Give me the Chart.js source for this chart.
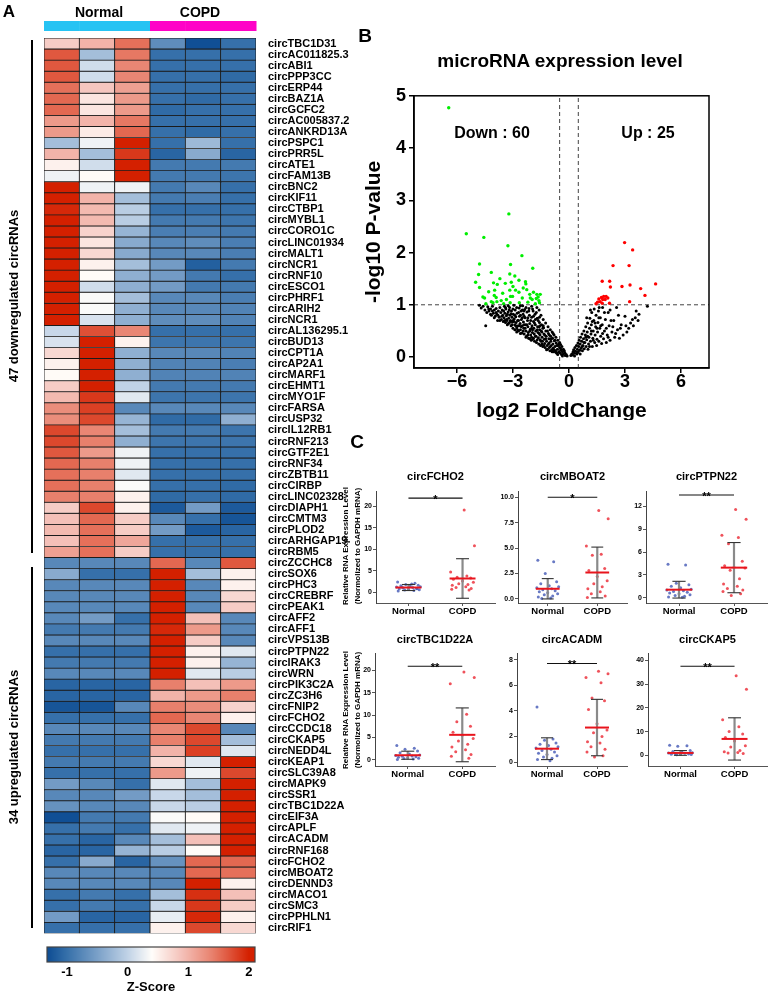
<!DOCTYPE html>
<html>
<head>
<meta charset="utf-8">
<script src="https://cdn.jsdelivr.net/npm/chart.js@4.4.1/dist/chart.umd.min.js"></script>
<style>
body { margin: 0; background: #fff; }
#stage { position: relative; width: 770px; height: 994px; overflow: hidden; background: #fff;
  font-family: 'Liberation Sans', Arial, sans-serif; font-weight: bold; color: #000; }
.lbl { position: absolute; white-space: nowrap; transform: translate(-50%, -50%); line-height: 1; }
.rot { transform: translate(-50%, -50%) rotate(-90deg); }
.vline { position: absolute; background: #000; width: 2px; }
canvas { position: absolute; }
</style>
</head>
<body>
<div id="stage"></div>
<script>
// ---------- Panel A data ----------
const sampleGroups = ['Normal', 'Normal', 'Normal', 'COPD', 'COPD', 'COPD'];
const circNames = [
  'circTBC1D31', 'circAC011825.3', 'circABI1', 'circPPP3CC', 'circERP44', 'circBAZ1A', 'circGCFC2',
  'circAC005837.2', 'circANKRD13A', 'circPSPC1', 'circPRR5L', 'circATE1', 'circFAM13B', 'circBNC2',
  'circKIF11', 'circCTBP1', 'circMYBL1', 'circCORO1C', 'circLINC01934', 'circMALT1', 'circNCR1',
  'circRNF10', 'circESCO1', 'circPHRF1', 'circARIH2', 'circNCR1', 'circAL136295.1', 'circBUD13',
  'circCPT1A', 'circAP2A1', 'circMARF1', 'circEHMT1', 'circMYO1F', 'circFARSA', 'circUSP32',
  'circIL12RB1', 'circRNF213', 'circGTF2E1', 'circRNF34', 'circZBTB11', 'circCIRBP', 'circLINC02328',
  'circDIAPH1', 'circCMTM3', 'circPLOD2', 'circARHGAP19', 'circRBM5',
  'circZCCHC8', 'circSOX6', 'circPHC3', 'circCREBRF', 'circPEAK1', 'circAFF2', 'circAFF1',
  'circVPS13B', 'circPTPN22', 'circIRAK3', 'circWRN', 'circPIK3C2A', 'circZC3H6', 'circFNIP2',
  'circFCHO2', 'circCCDC18', 'circCKAP5', 'circNEDD4L', 'circKEAP1', 'circSLC39A8', 'circMAPK9',
  'circSSR1', 'circTBC1D22A', 'circEIF3A', 'circAPLF', 'circACADM', 'circRNF168', 'circFCHO2',
  'circMBOAT2', 'circDENND3', 'circMACO1', 'circSMC3', 'circPPHLN1', 'circRIF1'
];
// z-score per row: Normal1..3, COPD1..3
const zScores = [
  [0.8, 1.0, 1.5, -0.7, -1.3, -1.0], [1.65, -0.2, 1.45, -1.0, -1.0, -1.0],
  [1.65, 0.1, 1.35, -1.0, -1.0, -1.0], [1.65, 0.1, 1.35, -1.0, -1.0, -1.05],
  [1.5, 0.85, 1.15, -1.0, -1.0, -1.0], [1.55, 0.6, 1.2, -1.0, -1.05, -1.0],
  [1.55, 0.6, 1.2, -1.05, -1.0, -1.0], [1.2, 1.0, 1.45, -1.0, -1.0, -1.0],
  [1.2, 0.55, 1.55, -1.0, -1.05, -1.0], [-0.2, 0.3, 2.0, -1.0, -0.25, -1.0],
  [1.0, -0.2, 1.85, -1.1, -0.4, -1.1], [0.5, 0.1, 2.0, -0.9, -0.9, -0.9],
  [0.3, 0.42, 2.0, -0.9, -0.9, -0.95], [2.0, 0.3, 0.3, -0.9, -0.75, -1.0],
  [2.0, 1.0, -0.2, -0.9, -0.85, -1.0], [1.95, 0.95, -0.05, -1.0, -1.0, -1.0],
  [2.0, 0.95, -0.05, -0.9, -0.9, -0.95], [2.0, 0.75, -0.3, -0.85, -0.85, -0.9],
  [2.0, 0.6, -0.4, -0.75, -0.7, -0.85], [2.0, 0.7, -0.4, -0.75, -0.75, -0.85],
  [2.0, 0.5, -0.2, -0.55, -1.15, -0.9], [2.0, 0.42, -0.35, -0.55, -0.9, -1.0],
  [2.0, 0.1, -0.35, -0.55, -0.9, -0.9], [2.0, 0.37, -0.2, -0.75, -0.75, -0.85],
  [2.0, 0.37, -0.35, -0.75, -0.75, -0.8], [2.0, 0.15, -0.35, -0.7, -0.7, -0.8],
  [0.05, 1.7, 1.35, -1.0, -1.0, -1.0], [0.15, 2.0, 0.5, -0.95, -0.95, -0.95],
  [0.7, 2.0, -0.35, -0.75, -0.75, -0.8], [0.5, 2.0, -0.35, -0.8, -0.8, -0.85],
  [0.42, 2.0, -0.35, -0.8, -0.8, -0.8], [0.8, 2.0, 0.0, -0.9, -0.9, -0.9],
  [0.95, 1.85, 0.2, -0.95, -0.95, -0.95], [1.3, 1.8, -0.75, -0.75, -0.75, -0.75],
  [1.3, 1.75, -0.3, -1.05, -1.05, -0.35], [1.75, 1.35, -0.2, -0.9, -0.9, -0.95],
  [1.75, 1.4, -0.35, -0.95, -0.95, -0.95], [1.65, 1.2, 0.3, -1.0, -1.0, -1.0],
  [1.55, 1.4, 0.3, -1.0, -1.0, -1.0], [1.5, 1.4, 0.2, -1.0, -1.0, -1.0],
  [1.5, 1.4, 0.37, -1.0, -1.0, -1.05], [1.4, 1.4, 0.5, -1.05, -1.0, -1.05],
  [0.8, 1.75, 0.5, -1.2, -0.55, -1.2], [0.9, 1.55, 0.8, -0.75, -1.0, -1.25],
  [0.95, 1.5, 0.8, -0.55, -1.2, -1.1], [0.9, 1.5, 1.1, -1.0, -1.0, -1.0],
  [1.15, 1.5, 0.8, -1.0, -1.0, -1.0],
  [-0.75, -0.75, -0.75, 1.55, -0.75, 1.65], [-0.4, -1.0, -1.0, 2.0, -0.2, 0.5],
  [-0.75, -0.75, -0.75, 2.0, -0.75, 0.5], [-0.75, -0.75, -0.75, 2.0, -0.75, 0.7],
  [-0.75, -0.75, -0.75, 2.0, -0.75, 0.8], [-0.75, -0.55, -1.0, 2.0, 0.9, -0.75],
  [-0.9, -0.9, -0.9, 1.95, 1.2, -0.75], [-0.75, -0.75, -0.75, 2.0, 0.8, -0.75],
  [-1.0, -1.0, -1.0, 2.0, 0.5, 0.2], [-0.9, -0.9, -0.9, 2.0, 0.5, -0.3],
  [-0.75, -0.75, -0.75, 2.0, 0.2, -0.05], [-1.1, -1.1, -1.1, 1.4, 0.9, 1.2],
  [-1.1, -1.1, -1.1, 1.0, 1.2, 1.4], [-1.25, -1.25, -0.75, 1.4, 1.3, 0.75],
  [-1.0, -1.0, -1.0, 1.55, 1.35, 0.5], [-0.75, -0.75, -0.75, 1.35, 1.75, -0.75],
  [-0.9, -0.9, -0.9, 1.4, 1.75, -0.2], [-1.0, -1.0, -1.0, 1.0, 1.8, 0.2],
  [-0.9, -0.9, -0.9, 0.7, 0.2, 2.0], [-1.0, -1.0, -1.0, 1.2, 0.3, 1.75],
  [-0.55, -0.75, -1.0, 0.2, -0.2, 2.0], [-0.75, -0.75, -0.55, 0.05, -0.2, 2.0],
  [-0.65, -0.75, -0.75, 0.05, -0.05, 2.0], [-1.3, -0.9, -0.9, 0.37, 0.42, 2.0],
  [-1.0, -0.9, -1.0, 0.2, 0.3, 2.0], [-1.0, -1.1, -0.75, -0.2, 0.9, 2.0],
  [-1.1, -1.1, -0.3, -0.05, 0.42, 2.0], [-1.0, -0.4, -1.1, -0.65, 1.55, 1.55],
  [-0.75, -0.75, -0.75, -0.75, 1.55, 1.5], [-0.75, -0.75, -0.75, -0.75, 2.0, 0.5],
  [-1.0, -0.9, -1.0, -0.2, 1.9, 0.9], [-1.0, -0.9, -1.0, 0.05, 1.85, 0.8],
  [-0.55, -1.1, -1.1, 0.25, 1.95, 0.5], [-1.0, -1.0, -1.0, 0.5, 1.75, 0.7]
];
const zTicks = [-1, 0, 1, 2];
const zRange = [-1.33, 2.1];

// ---------- Panel B data (log2 FC, -log10 P) ----------
const downPoints = [
  [-6.44, 4.77], [-3.22, 2.74], [-5.5, 2.36], [-4.56, 2.29], [-3.27, 2.13], [-2.52, 1.94], [-4.79, 1.78],
  [-3.13, 1.77], [-1.94, 1.70], [-4.16, 1.62], [-4.84, 1.58], [-3.17, 1.59], [-5.0, 1.43], [-4.04, 1.42],
  [-3.84, 1.39], [-3.41, 1.41], [-3.09, 1.43], [-2.68, 1.47], [-2.33, 1.44], [-2.31, 1.40], [-4.79, 1.33],
  [-3.98, 1.28], [-3.17, 1.28], [-2.86, 1.28], [-2.68, 1.24], [-2.26, 1.29], [-1.9, 1.24], [-1.72, 1.20],
  [-1.54, 1.20], [-4.61, 1.15], [-4.52, 1.13], [-3.9, 1.14], [-3.13, 1.16], [-3.02, 1.16], [-2.5, 1.13],
  [-2.07, 1.13], [-1.97, 1.10], [-1.61, 1.08], [-4.16, 1.06], [-4.07, 1.04], [-3.86, 1.06], [-3.63, 1.08],
  [-3.15, 1.04], [-2.66, 1.04], [-1.58, 1.04], [-1.65, 1.15], [-3.55, 1.22], [-3.7, 1.5], [-2.9, 1.55],
  [-4.3, 1.25], [-2.2, 1.05], [-1.8, 1.02], [-3.35, 1.1], [-4.45, 1.02], [-2.45, 1.32], [-1.75, 1.12],
  [-3.0, 1.35], [-4.0, 1.18], [-2.1, 1.2], [-3.5, 1.02]
];
const upPoints = [
  [2.98, 2.19], [3.41, 2.05], [2.36, 1.75], [3.22, 1.75], [1.78, 1.45], [2.18, 1.45], [4.64, 1.40],
  [2.22, 1.34], [2.84, 1.35], [3.27, 1.38], [3.84, 1.31], [4.07, 1.18], [3.25, 1.06], [1.74, 1.14],
  [1.86, 1.16], [1.99, 1.16], [2.08, 1.13], [1.6, 1.11], [1.67, 1.06], [1.53, 1.05], [1.94, 1.10],
  [1.81, 1.10], [2.17, 1.03], [1.45, 1.02], [1.78, 1.03]
];
const nsPoints = [
  [-0.1, 0.02], [-0.15, 0.05], [-0.2, 0.03], [-0.22, 0.08], [-0.25, 0.12], [-0.3, 0.06], [-0.3, 0.15],
  [-0.35, 0.1], [-0.38, 0.2], [-0.4, 0.05], [-0.42, 0.13], [-0.45, 0.24], [-0.48, 0.08], [-0.5, 0.18],
  [-0.5, 0.28], [-0.55, 0.1], [-0.58, 0.22], [-0.6, 0.32], [-0.62, 0.15], [-0.65, 0.07], [-0.68, 0.27],
  [-0.7, 0.38], [-0.72, 0.12], [-0.75, 0.2], [-0.78, 0.31], [-0.8, 0.42], [-0.82, 0.1], [-0.85, 0.17],
  [-0.86, 0.25], [-0.88, 0.36], [-0.9, 0.48], [-0.92, 0.14], [-0.95, 0.22], [-0.97, 0.3], [-0.98, 0.4],
  [-1.0, 0.52], [-1.02, 0.12], [-1.05, 0.18], [-1.06, 0.27], [-1.08, 0.35], [-1.1, 0.45], [-1.12, 0.58],
  [-1.15, 0.15], [-1.17, 0.22], [-1.2, 0.3], [-1.22, 0.4], [-1.24, 0.5], [-1.25, 0.65], [-1.28, 0.18],
  [-1.3, 0.26], [-1.32, 0.34], [-1.34, 0.44], [-1.36, 0.56], [-1.38, 0.72], [-1.4, 0.2], [-1.42, 0.3],
  [-1.44, 0.38], [-1.45, 0.48], [-1.47, 0.62], [-1.5, 0.8], [-1.52, 0.22], [-1.54, 0.33], [-1.55, 0.42],
  [-1.57, 0.52], [-1.58, 0.66], [-1.6, 0.9], [-1.62, 0.25], [-1.64, 0.37], [-1.66, 0.47], [-1.68, 0.58],
  [-1.7, 0.74], [-1.72, 0.95], [-1.74, 0.28], [-1.76, 0.4], [-1.78, 0.5], [-1.8, 0.62], [-1.82, 0.82],
  [-1.84, 0.3], [-1.86, 0.44], [-1.88, 0.55], [-1.9, 0.68], [-1.92, 0.88], [-1.94, 0.34], [-1.96, 0.47],
  [-1.98, 0.6], [-2.0, 0.76], [-2.0, 0.97], [-2.02, 0.32], [-2.05, 0.42], [-2.07, 0.53], [-2.1, 0.64],
  [-2.12, 0.8], [-2.14, 0.93], [-2.16, 0.36], [-2.18, 0.47], [-2.2, 0.58], [-2.22, 0.7], [-2.25, 0.86],
  [-2.28, 0.4], [-2.3, 0.5], [-2.32, 0.62], [-2.35, 0.75], [-2.37, 0.91], [-2.4, 0.44], [-2.42, 0.55],
  [-2.44, 0.67], [-2.46, 0.82], [-2.48, 0.98], [-2.5, 0.6], [-2.52, 0.46], [-2.55, 0.72], [-2.57, 0.88],
  [-2.6, 0.52], [-2.62, 0.64], [-2.65, 0.78], [-2.67, 0.94], [-2.7, 0.5], [-2.72, 0.6], [-2.75, 0.7],
  [-2.78, 0.84], [-2.8, 0.56], [-2.83, 0.66], [-2.85, 0.77], [-2.88, 0.9], [-2.9, 0.62], [-2.93, 0.73],
  [-2.95, 0.99], [-2.98, 0.82], [-3.0, 0.55], [-3.03, 0.67], [-3.05, 0.76], [-3.08, 0.88], [-3.1, 0.6],
  [-3.13, 0.7], [-3.16, 0.8], [-3.18, 0.95], [-3.2, 0.65], [-3.23, 0.74], [-3.26, 0.86], [-3.3, 0.62],
  [-3.32, 0.7], [-3.35, 0.79], [-3.38, 0.92], [-3.4, 0.66], [-3.43, 0.84], [-3.46, 0.97], [-3.48, 0.75],
  [-3.52, 0.68], [-3.55, 0.8], [-3.58, 0.9], [-3.62, 0.72], [-3.65, 0.85], [-3.7, 0.95], [-3.74, 0.76],
  [-3.78, 0.88], [-3.82, 0.7], [-3.86, 0.82], [-3.9, 0.93], [-3.95, 0.78], [-4.0, 0.9], [-4.05, 0.84],
  [-4.1, 0.97], [-4.15, 0.8], [-4.2, 0.92], [-4.28, 0.88], [-4.35, 0.96], [-4.46, 0.6], [-4.5, 0.9],
  [-4.6, 0.97], [-4.7, 0.94], [-4.8, 0.99],
  [-0.6, 0.05], [-0.7, 0.09], [-0.8, 0.14], [-0.9, 0.1], [-1.0, 0.2], [-1.1, 0.25], [-1.2, 0.14],
  [-1.3, 0.42], [-1.4, 0.55], [-1.5, 0.3], [-1.55, 0.6], [-1.6, 0.45], [-1.65, 0.7], [-1.7, 0.33],
  [-1.75, 0.85], [-1.8, 0.4], [-1.85, 0.65], [-1.9, 0.78], [-1.95, 0.52], [-2.0, 0.38], [-2.05, 0.7],
  [-2.1, 0.5], [-2.15, 0.88], [-2.2, 0.42], [-2.25, 0.62], [-2.3, 0.95], [-2.35, 0.55], [-2.4, 0.78],
  [-2.45, 0.5], [-2.5, 0.9], [-2.55, 0.58], [-2.6, 0.8], [-2.65, 0.6], [-2.7, 0.85], [-2.75, 0.52],
  [-2.8, 0.95], [-2.85, 0.6], [-2.9, 0.8], [-2.95, 0.68], [-3.0, 0.92], [-3.05, 0.62], [-3.1, 0.83],
  [-3.15, 0.68], [-3.2, 0.9], [-3.25, 0.64], [-3.3, 0.82], [-3.35, 0.72], [-3.4, 0.95], [-3.45, 0.7],
  [-3.5, 0.88], [-3.6, 0.78], [-3.7, 0.7], [-3.8, 0.8], [-3.9, 0.85], [-4.0, 0.75], [-4.1, 0.88],
  [-4.2, 0.82], [-4.3, 0.92], [-4.4, 0.85], [-1.25, 0.35], [-1.35, 0.22], [-1.45, 0.25], [-1.6, 0.58],
  [-1.7, 0.52], [-1.8, 0.72], [-1.9, 0.36], [-2.0, 0.55], [-2.1, 0.35], [-2.2, 0.75], [-2.3, 0.38],
  [-2.4, 0.62], [-2.5, 0.75], [-2.6, 0.45], [-2.7, 0.7], [-2.8, 0.48], [-2.9, 0.52], [-3.0, 0.7],
  [-1.15, 0.5], [-1.05, 0.42], [-0.95, 0.35], [-0.85, 0.45], [-0.75, 0.32], [-0.65, 0.22], [-0.55, 0.25],
  [-0.45, 0.16], [-0.35, 0.02], [-2.6, 0.98], [-3.25, 0.98], [-1.95, 0.92], [-2.42, 0.88], [-1.58, 0.76],
  [-1.48, 0.5], [-1.38, 0.6],
  [0.1, 0.03], [0.15, 0.06], [0.2, 0.04], [0.22, 0.1], [0.25, 0.14], [0.3, 0.07], [0.32, 0.18],
  [0.35, 0.11], [0.4, 0.22], [0.42, 0.06], [0.45, 0.15], [0.48, 0.27], [0.5, 0.1], [0.52, 0.2],
  [0.55, 0.32], [0.58, 0.13], [0.6, 0.25], [0.62, 0.38], [0.65, 0.17], [0.68, 0.3], [0.7, 0.44],
  [0.72, 0.12], [0.75, 0.22], [0.78, 0.35], [0.8, 0.5], [0.82, 0.16], [0.85, 0.28], [0.88, 0.42],
  [0.9, 0.58], [0.92, 0.2], [0.95, 0.33], [0.98, 0.48], [1.0, 0.65], [1.02, 0.15], [1.05, 0.25],
  [1.07, 0.38], [1.1, 0.55], [1.12, 0.74], [1.15, 0.3], [1.18, 0.44], [1.2, 0.62], [1.22, 0.85],
  [1.25, 0.2], [1.28, 0.36], [1.3, 0.5], [1.33, 0.7], [1.35, 0.92], [1.38, 0.28], [1.4, 0.42],
  [1.43, 0.58], [1.45, 0.8], [1.48, 0.22], [1.5, 0.34], [1.53, 0.48], [1.55, 0.66], [1.58, 0.88],
  [1.6, 0.3], [1.65, 0.55], [1.68, 0.75], [1.7, 0.4], [1.75, 0.26], [1.78, 0.62], [1.8, 0.95],
  [1.85, 0.35], [1.9, 0.5], [1.95, 0.72], [2.0, 0.28], [2.05, 0.42], [2.1, 0.85], [2.15, 0.6],
  [2.2, 0.32], [2.3, 0.48], [2.4, 0.7], [2.45, 0.38], [2.55, 0.95], [2.6, 0.52], [2.7, 0.36],
  [2.8, 0.62], [2.9, 0.42], [3.0, 0.78], [3.1, 0.48], [3.2, 0.55], [3.3, 0.65], [3.4, 0.72],
  [3.45, 0.6], [3.6, 0.88], [3.7, 0.7], [3.75, 0.82], [4.2, 0.97],
  [0.3, 0.02], [0.45, 0.08], [0.6, 0.06], [0.7, 0.2], [0.8, 0.28], [0.9, 0.38], [1.0, 0.4],
  [1.1, 0.2], [1.2, 0.5], [1.3, 0.32], [1.4, 0.65], [1.5, 0.55], [1.6, 0.75], [1.7, 0.6],
  [1.8, 0.45], [1.9, 0.85], [2.0, 0.55], [2.1, 0.38], [2.25, 0.7], [2.35, 0.58], [2.5, 0.45],
  [2.65, 0.8], [2.75, 0.55], [3.05, 0.6], [3.55, 0.75], [0.95, 0.75], [1.15, 0.9], [1.25, 0.68],
  [1.62, 0.95], [2.2, 0.9]
];
const fcCutoffs = [-0.5, 0.5];
const pCutoff = 1;
const volcanoX = [-8.3, 7.5];
const volcanoY = [-0.21, 5.0];
const volcanoXTicks = [-6, -3, 0, 3, 6];

// ---------- Panel C data ----------
const cTitles = ['circFCHO2', 'circMBOAT2', 'circPTPN22', 'circTBC1D22A', 'circACADM', 'circCKAP5'];
const cNormal = [
  [2.4, 2.1, 1.8, 1.6, 1.5, 1.4, 1.3, 1.2, 1.1, 1.0, 0.9, 0.8, 0.7, 0.6, 0.5, 0.4, 0.3, 1.9, 1.2, 0.8],
  [3.8, 3.65, 2.5, 1.7, 1.5, 1.3, 1.2, 1.1, 1.0, 0.9, 0.8, 0.7, 0.6, 0.5, 0.4, 0.3, 0.2, 0.1, 0.05],
  [4.4, 4.3, 1.9, 1.7, 1.5, 1.3, 1.1, 1.0, 0.9, 0.8, 0.7, 0.6, 0.5, 0.4, 0.3, 0.2, 0.1, 0.05],
  [3.2, 2.6, 2.4, 2.0, 1.6, 1.3, 1.1, 1.0, 0.9, 0.8, 0.7, 0.6, 0.5, 0.4, 0.3, 0.2, 0.1],
  [4.3, 1.8, 1.7, 1.5, 1.4, 1.3, 1.2, 1.1, 1.0, 0.9, 0.8, 0.7, 0.6, 0.5, 0.4, 0.3, 0.2, 0.1],
  [4.2, 4.0, 3.8, 2.0, 1.6, 1.3, 1.1, 1.0, 0.9, 0.8, 0.6, 0.5, 0.4, 0.3, 0.2]
];
const cCopd = [
  [19.1, 10.8, 4.7, 3.8, 3.5, 3.3, 3.0, 2.6, 2.3, 2.0, 1.8, 1.6, 1.3, 1.1, 0.9, 0.7, 0.5],
  [8.7, 7.9, 5.2, 4.4, 4.3, 3.0, 2.8, 2.2, 1.8, 1.5, 1.2, 1.0, 0.7, 0.5, 0.3, 0.15],
  [11.6, 10.3, 8.2, 7.9, 7.1, 4.8, 4.2, 4.0, 3.9, 3.6, 2.5, 1.8, 1.5, 1.2, 1.0, 0.8, 0.5, 0.3],
  [19.6, 18.4, 17.0, 10.2, 8.5, 7.5, 6.2, 5.5, 4.8, 4.2, 3.5, 2.9, 2.3, 1.8, 1.2, 0.8, 0.4],
  [7.1, 6.9, 6.6, 6.2, 5.0, 4.8, 4.1, 3.0, 2.5, 2.3, 2.0, 1.6, 1.5, 1.2, 1.0, 0.8, 0.5, 0.4],
  [33.5, 27.8, 15.0, 12.0, 10.0, 9.0, 7.5, 6.0, 4.0, 3.5, 2.0, 1.5, 1.2, 1.0, 0.8]
];
const cMeanNormal = [1.1, 1.0, 1.05, 1.05, 1.05, 1.0];
const cSdNormal = [0.7, 1.0, 1.1, 0.9, 0.85, 1.0];
const cMeanCopd = [3.2, 2.6, 3.95, 5.6, 2.7, 6.9];
const cSdCopd = [4.6, 2.5, 3.3, 6.0, 2.2, 8.9];
const cSigLevel = [21.9, 10.0, 13.5, 20.9, 7.7, 37.5];
const cSigStars = ['*', '*', '**', '**', '**', '**'];
const cYRange = [[-2.5, 23.5], [-0.4, 10.6], [-0.7, 14], [-1.35, 23.8], [-0.3, 8.5], [-4.5, 43]];
const cYTicks = [[0, 5, 10, 15, 20], [0, 2.5, 5, 7.5, 10], [0, 3, 6, 9, 12], [0, 5, 10, 15, 20], [0, 2, 4, 6, 8], [0, 10, 20, 30, 40]];
const jitterOffsets = [-0.2, 0.12, -0.05, 0.18, -0.14, 0.03, 0.22, -0.22, 0.08, -0.1,
  0.15, -0.17, 0.0, 0.2, -0.07, 0.1, -0.19, 0.06, -0.12, 0.16];

// ---------- setup ----------
const FONT = "'Liberation Sans', Arial, sans-serif";
Chart.defaults.font.family = FONT;
Chart.defaults.font.weight = 'bold';
Chart.defaults.color = '#000';
Chart.defaults.animation = false;
Chart.defaults.events = [];
Chart.defaults.plugins.legend.display = false;
Chart.defaults.plugins.tooltip.enabled = false;

const stage = document.getElementById('stage');

function makeCanvas(left, top, w, h) {
  const c = document.createElement('canvas');
  c.width = w; c.height = h;
  c.style.left = left + 'px'; c.style.top = top + 'px';
  c.style.width = w + 'px'; c.style.height = h + 'px';
  stage.appendChild(c);
  return c;
}

function label(text, cx, cy, size, rotate) {
  const d = document.createElement('div');
  d.className = 'lbl' + (rotate ? ' rot' : '');
  d.style.left = cx + 'px'; d.style.top = cy + 'px';
  d.style.fontSize = size + 'px';
  d.innerHTML = text;
  stage.appendChild(d);
  return d;
}

// colour scale for z-scores
const zStops = [-1.35, -1.0, -0.5, 0.0, 0.4, 0.9, 1.4, 2.0];
const zColors = [[10, 74, 145], [54, 112, 170], [122, 160, 200], [192, 210, 230],
  [255, 253, 250], [244, 192, 184], [232, 128, 108], [212, 32, 0]];
function zColor(z) {
  if (z <= zStops[0]) return `rgb(${zColors[0].join(',')})`;
  for (let i = 1; i < zStops.length; i++) {
    if (z <= zStops[i]) {
      const t = (z - zStops[i - 1]) / (zStops[i] - zStops[i - 1]);
      const a = zColors[i - 1], b = zColors[i];
      return `rgb(${a.map((v, k) => Math.round(v + (b[k] - v) * t)).join(',')})`;
    }
  }
  return `rgb(${zColors[zColors.length - 1].join(',')})`;
}

// ---------- Panel A: heatmap ----------
const groupColors = { Normal: '#27c3f3', COPD: '#ff03c7' };

const headerBar = {
  id: 'headerBar',
  afterDraw(chart) {
    const { ctx } = chart;
    const xs = chart.scales.x;
    const w = xs.getPixelForValue(1) - xs.getPixelForValue(0);
    sampleGroups.forEach((g, i) => {
      const cx = xs.getPixelForValue(i);
      ctx.fillStyle = groupColors[g];
      ctx.fillRect(cx - w / 2, 21, w + 0.5, 10);
    });
  }
};

const heatCanvas = makeCanvas(0, 0, 360, 944);
new Chart(heatCanvas, {
  type: 'bar',
  data: {
    labels: sampleGroups.map((g, i) => g + (i % 3 + 1)),
    datasets: zScores.map((row, r) => ({
      label: circNames[r],
      data: row.map(() => 1),
      backgroundColor: row.map(zColor),
      borderColor: '#1c1c1c',
      borderWidth: 0.8,
      borderSkipped: false,
      barPercentage: 1,
      categoryPercentage: 1
    }))
  },
  options: {
    responsive: false,
    layout: { padding: { left: 44, top: 38, right: 0, bottom: 8 } },
    scales: {
      x: { stacked: true, display: false },
      y: { stacked: true, display: false, min: 0, max: circNames.length, reverse: true },
      rows: {
        type: 'category', position: 'right', labels: circNames, offset: true,
        grid: { display: false }, border: { display: false },
        ticks: { autoSkip: false, font: { size: 11 }, padding: 4, color: '#000' },
        afterFit: s => { s.width = 104; }
      }
    }
  },
  plugins: [headerBar]
});

label('A', 9, 11, 17);
label('Normal', 99, 12, 14);
label('COPD', 200, 12, 14);
[[40, 553], [567, 928]].forEach(([a, b]) => {
  const l = document.createElement('div');
  l.className = 'vline';
  l.style.left = '31px'; l.style.top = a + 'px'; l.style.height = (b - a) + 'px';
  stage.appendChild(l);
});
label('47 downregulated circRNAs', 13, 296, 13, true);
label('34 upregulated circRNAs', 13, 747, 13, true);

// colour key
const keyStrip = {
  id: 'keyStrip',
  beforeDatasetsDraw(chart) {
    const { ctx, chartArea: a } = chart;
    const xs = chart.scales.x;
    for (let px = Math.floor(a.left); px < a.right; px++) {
      ctx.fillStyle = zColor(xs.getValueForPixel(px + 0.5));
      ctx.fillRect(px, a.top, 1, a.bottom - a.top);
    }
    ctx.strokeStyle = '#444';
    ctx.lineWidth = 1.2;
    ctx.strokeRect(a.left, a.top, a.right - a.left, a.bottom - a.top);
  }
};
const keyCanvas = makeCanvas(0, 940, 300, 54);
new Chart(keyCanvas, {
  type: 'scatter',
  data: { datasets: [] },
  options: {
    responsive: false,
    layout: { padding: { left: 47, right: 45, top: 7, bottom: 0 } },
    scales: {
      x: {
        type: 'linear', min: zRange[0], max: zRange[1],
        afterBuildTicks: s => { s.ticks = zTicks.map(v => ({ value: v })); },
        grid: { display: false }, border: { display: false },
        ticks: { font: { size: 13, lineHeight: 1 }, padding: -4, maxRotation: 0 },
        title: { display: true, text: 'Z-Score', font: { size: 13, lineHeight: 1 }, padding: { top: 4, bottom: 0 } },
        afterFit: s => { s.height = 32; }
      },
      y: { display: false, min: 0, max: 1 }
    }
  },
  plugins: [keyStrip]
});

// ---------- Panel B: volcano ----------
const frame = {
  id: 'frame',
  afterDraw(chart) {
    const { ctx, chartArea: a } = chart;
    ctx.save();
    ctx.strokeStyle = '#000';
    ctx.lineWidth = 1.5;
    ctx.strokeRect(a.left, a.top, a.right - a.left, a.bottom - a.top);
    ctx.restore();
  }
};
const toXY = arr => arr.map(p => ({ x: p[0], y: p[1] }));
const dashed = pts => ({
  data: pts, showLine: true, borderColor: '#444', borderWidth: 1,
  borderDash: [4, 3], pointRadius: 0, fill: false
});

const volCanvas = makeCanvas(358, 82, 356, 338);
new Chart(volCanvas, {
  type: 'scatter',
  data: {
    datasets: [
      { data: toXY(nsPoints), backgroundColor: '#000', pointRadius: 1.5, borderWidth: 0 },
      { data: toXY(downPoints), backgroundColor: '#00ee00', pointRadius: 1.7, borderWidth: 0 },
      { data: toXY(upPoints), backgroundColor: '#ff0000', pointRadius: 1.7, borderWidth: 0 },
      ...fcCutoffs.map(v => dashed([{ x: v, y: volcanoY[0] }, { x: v, y: volcanoY[1] }])),
      dashed([{ x: volcanoX[0], y: pCutoff }, { x: volcanoX[1], y: pCutoff }])
    ]
  },
  options: {
    responsive: false,
    layout: { padding: { left: 0, top: 10, right: 5, bottom: 0 } },
    scales: {
      x: {
        type: 'linear', min: volcanoX[0], max: volcanoX[1],
        afterBuildTicks: s => { s.ticks = volcanoXTicks.map(v => ({ value: v })); },
        ticks: { font: { size: 18, lineHeight: 1 }, padding: 0, maxRotation: 0,
          callback: v => (v < 0 ? '\u2212' + Math.abs(v) : String(v)) },
        grid: { drawOnChartArea: false, tickLength: 5, color: '#000', lineWidth: 1.5 },
        border: { color: '#000', width: 1.5 },
        title: { display: true, text: 'log2 FoldChange', font: { size: 21, lineHeight: 0.8 }, padding: { top: 0, bottom: 0 } },
        afterFit: s => { s.height = 52; }
      },
      y: {
        type: 'linear', min: volcanoY[0], max: volcanoY[1],
        afterBuildTicks: s => { s.ticks = [0, 1, 2, 3, 4, 5].map(v => ({ value: v })); },
        ticks: { font: { size: 18 }, padding: 3 },
        grid: { drawOnChartArea: false, tickLength: 5, color: '#000', lineWidth: 1.5 },
        border: { color: '#000', width: 1.5 },
        title: { display: true, text: '-log10 P-value', font: { size: 21 }, padding: { top: 4, bottom: 0 } },
        afterFit: s => { s.width = 56; }
      }
    }
  },
  plugins: [frame]
});

label('B', 365, 35, 19);
label('microRNA expression level', 560, 60, 19);
label('Down : 60', 492, 133, 16);
label('Up : 25', 648, 133, 16);

// ---------- Panel C: dot plots ----------
const cAreas = [
  { l: 376, t: 490, r: 495, b: 603 }, { l: 518, t: 490, r: 627, b: 603 }, { l: 646, t: 490, r: 767, b: 603 },
  { l: 375, t: 652, r: 495, b: 766 }, { l: 517, t: 652, r: 627, b: 766 }, { l: 648, t: 652, r: 767, b: 766 }
];

function summaryPlugin(i) {
  return {
    id: 'summary' + i,
    afterDatasetsDraw(chart) {
      const { ctx } = chart;
      const xs = chart.scales.x, ys = chart.scales.y;
      const groups = [[1, cMeanNormal[i], cSdNormal[i]], [2, cMeanCopd[i], cSdCopd[i]]];
      ctx.save();
      groups.forEach(([gx, m, sd]) => {
        const x = xs.getPixelForValue(gx);
        const yTop = ys.getPixelForValue(m + sd), yBot = ys.getPixelForValue(m - sd);
        ctx.strokeStyle = '#8a8a8a';
        ctx.lineWidth = 2.2;
        ctx.beginPath(); ctx.moveTo(x, yTop); ctx.lineTo(x, yBot); ctx.stroke();
        ctx.strokeStyle = '#333';
        ctx.lineWidth = 1.1;
        const cw = xs.getPixelForValue(gx + 0.12) - x;
        [yTop, yBot].forEach(y => { ctx.beginPath(); ctx.moveTo(x - cw, y); ctx.lineTo(x + cw, y); ctx.stroke(); });
        const mw = xs.getPixelForValue(gx + 0.24) - x;
        const ym = ys.getPixelForValue(m);
        ctx.strokeStyle = '#e8141c';
        ctx.lineWidth = 2;
        ctx.beginPath(); ctx.moveTo(x - mw, ym); ctx.lineTo(x + mw, ym); ctx.stroke();
      });
      const ySig = ys.getPixelForValue(cSigLevel[i]);
      ctx.strokeStyle = '#111';
      ctx.lineWidth = 1.1;
      ctx.beginPath(); ctx.moveTo(xs.getPixelForValue(1), ySig); ctx.lineTo(xs.getPixelForValue(2), ySig); ctx.stroke();
      ctx.fillStyle = '#000';
      ctx.font = 'bold 11px ' + FONT;
      ctx.textAlign = 'center';
      ctx.textBaseline = 'alphabetic';
      ctx.fillText(cSigStars[i], xs.getPixelForValue(1.5), ySig + 5);
      ctx.restore();
    }
  };
}

cAreas.forEach((a, i) => {
  const yw = 26, xh = 20, pt = 4, pr = 4;
  const cv = makeCanvas(a.l - yw, a.t - pt, a.r - a.l + yw + pr, a.b - a.t + pt + xh);
  const dec = i === 1 ? 1 : 0;
  new Chart(cv, {
    type: 'scatter',
    data: {
      datasets: [
        { data: cNormal[i].map((v, k) => ({ x: 1 + jitterOffsets[k % jitterOffsets.length], y: v })),
          backgroundColor: 'rgba(78,98,186,0.85)', pointRadius: 1.5, borderWidth: 0 },
        { data: cCopd[i].map((v, k) => ({ x: 2 + jitterOffsets[(k + 5) % jitterOffsets.length], y: v })),
          backgroundColor: 'rgba(236,52,62,0.85)', pointRadius: 1.5, borderWidth: 0 }
      ]
    },
    options: {
      responsive: false,
      layout: { padding: { left: 0, top: pt, right: pr, bottom: 0 } },
      scales: {
        x: {
          type: 'linear', min: 0.4, max: 2.6,
          afterBuildTicks: s => { s.ticks = [{ value: 1 }, { value: 2 }]; },
          ticks: { font: { size: 9.5 }, padding: 0, maxRotation: 0, callback: v => (v === 1 ? 'Normal' : 'COPD') },
          grid: { drawOnChartArea: false, tickLength: 3, color: '#555' },
          border: { color: '#555', width: 1 },
          afterFit: s => { s.height = xh; }
        },
        y: {
          type: 'linear', min: cYRange[i][0], max: cYRange[i][1],
          afterBuildTicks: s => { s.ticks = cYTicks[i].map(v => ({ value: v })); },
          ticks: { font: { size: 7 }, padding: 1, callback: v => v.toFixed(dec) },
          grid: { drawOnChartArea: false, tickLength: 3, color: '#555' },
          border: { color: '#444', width: 1 },
          afterFit: s => { s.width = yw; }
        }
      }
    },
    plugins: [summaryPlugin(i)]
  });
  label(cTitles[i], (a.l + a.r) / 2, i < 3 ? 476 : 639, 11);
});

label('C', 357, 441, 19);
const yTitle = 'Relative RNA Expression Level<br>(Normolized to GAPDH mRNA)';
[546, 710].forEach(cy => {
  const d = label(yTitle, 352, cy, 8, true);
  d.style.lineHeight = '12px';
  d.style.textAlign = 'center';
});
</script>
</body>
</html>
